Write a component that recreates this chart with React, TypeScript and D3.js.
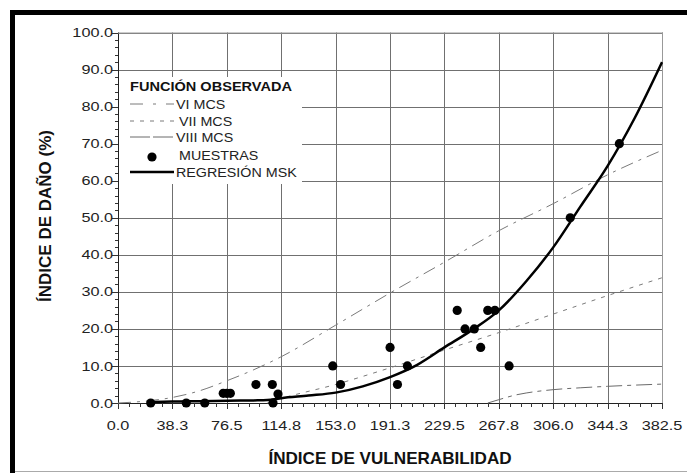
import React, { useEffect, useRef } from "react";
import * as d3 from "d3";

// tick values / labels
const xTickValues = [0, 38.25, 76.5, 114.75, 153, 191.25, 229.5, 267.75, 306, 344.25, 382.5];
const xTickLabels = ["0.0", "38.3", "76.5", "114.8", "153.0", "191.3", "229.5", "267.8", "306.0", "344.3", "382.5"];
const yTickValues = [0, 10, 20, 30, 40, 50, 60, 70, 80, 90, 100];
const yTickLabels = ["0.0", "10.0", "20.0", "30.0", "40.0", "50.0", "60.0", "70.0", "80.0", "90.0", "100.0"];

// MUESTRAS (observed samples)
const muestrasX = [23, 48, 61, 74, 76.5, 79, 97, 108.5, 109, 112.5, 151, 156.5, 191.3, 196.5, 203.5, 238.5, 244, 250.5, 255, 260, 265, 275, 318, 352.5];
const muestrasY = [0, 0, 0, 2.6, 2.6, 2.6, 5, 5, 0, 2.4, 10, 5, 15, 5, 10, 25, 20, 20, 15, 25, 25, 10, 50, 70];

// REGRESIÓN MSK
const regX = [23, 38.3, 57.4, 76.5, 95.6, 105, 114.8, 133.9, 153, 172.1, 191.3, 210.4, 229.5, 248.6, 267.8, 286.9, 306, 325.1, 344.3, 363.4, 382.5];
const regY = [0.2, 0.4, 0.5, 0.6, 0.7, 0.8, 1.3, 2.0, 2.8, 4.5, 7.0, 10.3, 15.0, 19.6, 25.0, 32.8, 42.0, 53.0, 64.0, 77.0, 92.0];

// VI MCS
const viX = [0, 19.1, 38.3, 57.4, 76.5, 95.6, 114.8, 153, 191.3, 229.5, 267.8, 306, 344.3, 382.5];
const viY = [0, 0.5, 1.5, 3.3, 6.0, 9.0, 12.5, 21.0, 29.7, 38.0, 46.5, 53.8, 61.6, 68.2];

// VII MCS
const viiX = [105, 114.8, 153, 191.3, 229.5, 267.8, 306, 344.3, 382.5];
const viiY = [0, 1.2, 5.0, 9.5, 14.3, 19.0, 24.0, 29.0, 33.8];

// VIII MCS
const viiiX = [260, 267.8, 280, 287, 306, 325, 344.3, 382.5];
const viiiY = [0, 0.9, 2.2, 2.7, 3.6, 4.1, 4.5, 5.1];

const FONT = "'Liberation Sans', Arial, sans-serif";

export default function App() {
  const ref = useRef<SVGSVGElement>(null);

  useEffect(() => {
    const svg = d3.select(ref.current);
    svg.selectAll("*").remove();

    const left = 118, right = 662, top = 32.5, bottom = 403;
    const x = d3.scaleLinear().domain([0, 382.5]).range([left, right]);
    const y = d3.scaleLinear().domain([0, 100]).range([bottom, top]);

    const stext = (g: any, px: number, py: number, str: string, o: any) => {
      g.append("text")
        .attr("transform", `translate(${px},${py}) scale(${o.sx || 1},1)`)
        .attr("text-anchor", o.anchor || "start")
        .attr("dy", "0.35em")
        .attr("font-family", FONT)
        .attr("font-size", o.size || 13)
        .attr("font-weight", o.weight || "normal")
        .attr("fill", o.fill || "#222")
        .text(str);
    };

    // outer frame
    svg.append("rect").attr("width", 687).attr("height", 473).attr("fill", "#fff");
    svg.append("line").attr("x1", 10).attr("x2", 687).attr("y1", 12.5).attr("y2", 12.5).attr("stroke", "#000").attr("stroke-width", 5);
    svg.append("line").attr("x1", 12.5).attr("x2", 12.5).attr("y1", 10).attr("y2", 473).attr("stroke", "#000").attr("stroke-width", 5);
    svg.append("line").attr("x1", 15).attr("x2", 687).attr("y1", 471.5).attr("y2", 471.5).attr("stroke", "#aaa").attr("stroke-width", 1);

    // grid
    const grid = svg.append("g").attr("stroke", "#707070").attr("stroke-width", 1);
    xTickValues.forEach((v) => {
      grid.append("line").attr("x1", Math.round(x(v)) + 0.5).attr("x2", Math.round(x(v)) + 0.5).attr("y1", top).attr("y2", bottom);
    });
    yTickValues.forEach((v) => {
      grid.append("line").attr("x1", left).attr("x2", right).attr("y1", Math.round(y(v)) + 0.5).attr("y2", Math.round(y(v)) + 0.5);
    });

    // legend background
    svg.append("rect").attr("x", left + 1).attr("y", 77).attr("width", 301 - left).attr("height", 107).attr("fill", "#fff");

    // axes lines
    svg.append("line").attr("x1", left + 0.5).attr("x2", left + 0.5).attr("y1", top).attr("y2", bottom).attr("stroke", "#222");
    svg.append("line").attr("x1", left).attr("x2", right).attr("y1", bottom + 0.5).attr("y2", bottom + 0.5).attr("stroke", "#222");
    svg.append("line").attr("x1", right + 0.5).attr("x2", right + 0.5).attr("y1", top).attr("y2", bottom).attr("stroke", "#999");
    svg.append("line").attr("x1", left).attr("x2", right).attr("y1", top + 0.5).attr("y2", top + 0.5).attr("stroke", "#999");

    // minor/major ticks
    const ticks = svg.append("g").attr("stroke", "#333").attr("stroke-width", 1);
    d3.range(0, 100.01, 2).forEach((v) => {
      const major = Math.abs(v % 10) < 1e-6;
      const yy = Math.round(y(v)) + 0.5;
      ticks.append("line").attr("x1", left - (major ? 6 : 3)).attr("x2", left).attr("y1", yy).attr("y2", yy);
    });
    d3.range(0, 382.51, 382.5 / 50).forEach((v, i) => {
      const major = i % 5 === 0;
      const xx = Math.round(x(v)) + 0.5;
      ticks.append("line").attr("x1", xx).attr("x2", xx).attr("y1", bottom).attr("y2", bottom + (major ? 6 : 4));
    });

    // tick labels
    yTickValues.forEach((v, i) => stext(svg, left - 5, y(v), yTickLabels[i], { anchor: "end", size: 13, sx: 1.25 }));
    xTickValues.forEach((v, i) => stext(svg, x(v), 425, xTickLabels[i], { anchor: "middle", size: 13, sx: 1.25 }));

    const drawSeries = (xs: number[], ys: number[], stroke: string, width: number, dash: string | null, curve: any) => {
      const pts: [number, number][] = xs.map((v, i) => [x(v), y(ys[i])]);
      svg.append("path")
        .attr("d", d3.line().curve(curve)(pts))
        .attr("fill", "none")
        .attr("stroke", stroke)
        .attr("stroke-width", width)
        .attr("stroke-dasharray", dash);
    };

    drawSeries(viX, viY, "#7a7a7a", 1, "13,6,3,6", d3.curveMonotoneX);
    drawSeries(viiX, viiY, "#7a7a7a", 1, "4,6", d3.curveMonotoneX);
    drawSeries(viiiX, viiiY, "#6a6a6a", 1, "16,5,4,5", d3.curveMonotoneX);
    drawSeries(regX, regY, "#000", 2.5, null, d3.curveMonotoneX);

    svg.append("g").selectAll("circle").data(muestrasX).enter()
      .append("circle")
      .attr("cx", (d) => x(d))
      .attr("cy", (d, i) => y(muestrasY[i]))
      .attr("r", 4.6)
      .attr("fill", "#000");

    // legend
    stext(svg, 130, 86, "FUNCIÓN OBSERVADA", { size: 13, weight: "bold", sx: 1.12, fill: "#111" });
    const entries = [
      { label: "VI MCS", y: 104, dash: "13,10,3,10", w: 1, c: "#7a7a7a", tx: 176 },
      { label: "VII MCS", y: 121, dash: "4,6", w: 1, c: "#7a7a7a", tx: 179 },
      { label: "VIII MCS", y: 137, dash: "20,3", w: 1, c: "#6a6a6a", tx: 176 },
      { label: "MUESTRAS", y: 155, dash: null, w: 0, c: "#000", tx: 179 },
      { label: "REGRESIÓN MSK", y: 172, dash: null, w: 2.5, c: "#000", tx: 176 },
    ];
    entries.forEach((e) => {
      if (e.w > 0) {
        svg.append("line").attr("x1", 130).attr("x2", 174).attr("y1", e.y).attr("y2", e.y)
          .attr("stroke", e.c).attr("stroke-width", e.w).attr("stroke-dasharray", e.dash);
      } else {
        svg.append("circle").attr("cx", 152).attr("cy", e.y + 2).attr("r", 4.6).attr("fill", "#000");
      }
      stext(svg, e.tx, e.y, e.label, { size: 13, sx: 1.1 });
    });

    // axis titles
    stext(svg, (left + right) / 2, 458, "ÍNDICE DE VULNERABILIDAD", { anchor: "middle", size: 16, weight: "bold", sx: 1.07, fill: "#111" });
    svg.append("text")
      .attr("transform", `translate(45,${216}) rotate(-90)`)
      .attr("text-anchor", "middle")
      .attr("dy", "0.35em")
      .attr("font-family", FONT)
      .attr("font-size", 17)
      .attr("font-weight", "bold")
      .attr("fill", "#111")
      .text("ÍNDICE DE DAÑO (%)");
  }, []);

  return (
    <svg ref={ref} width={687} height={473} style={{ position: "absolute", left: 0, top: 0 }} />
  );
}
